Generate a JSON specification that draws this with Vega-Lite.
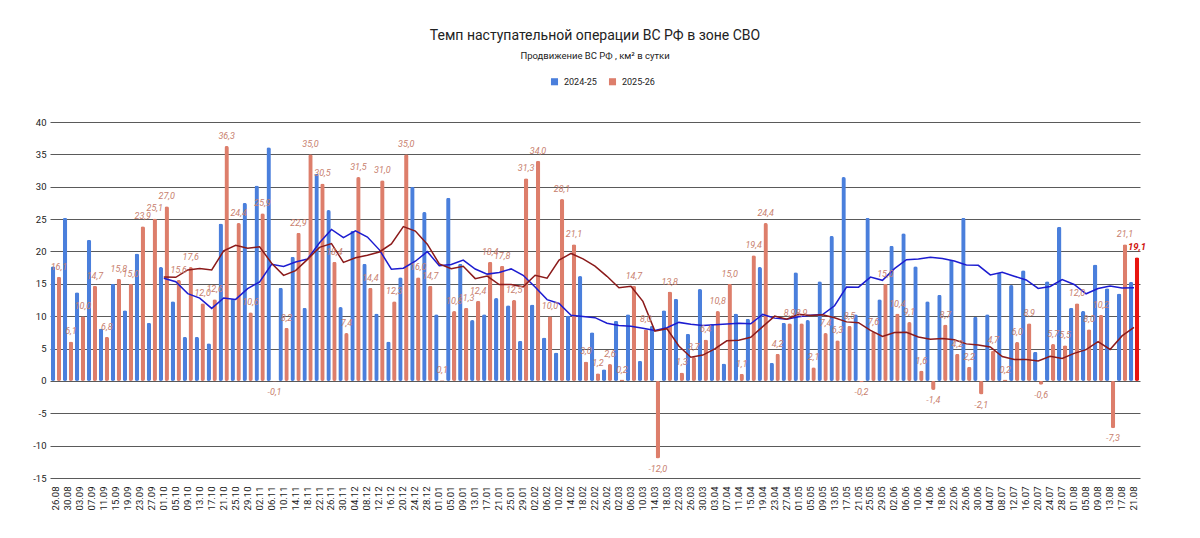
{
  "$schema": "https://vega.github.io/schema/vega-lite/v6.json",
  "width": 1090,
  "height": 356,
  "autosize": "none",
  "padding": {"left": 50, "top": 122, "right": 60, "bottom": 60},
  "background": "white",
  "config": {
    "font": "Roboto",
    "view": {"stroke": null},
    "locale": {"number": {"decimal": ",", "thousands": " ", "grouping": [3], "currency": ["", ""], "minus": "-"}}
  },
  "title": {
    "text": "Темп наступательной операции ВС РФ в зоне СВО",
    "subtitle": "Продвижение ВС РФ , км² в сутки",
    "fontSize": 14,
    "fontWeight": "normal",
    "color": "#222",
    "subtitleFontSize": 9.5,
    "subtitleColor": "#222",
    "subtitlePadding": 8,
    "anchor": "middle",
    "offset": 17
  },
  "data": {
    "values": [
      {"d": "26.08", "2024-25": 17.7, "2025-26": 16.1},
      {"d": "30.08", "2024-25": 25.2, "2025-26": 6.1},
      {"d": "03.09", "2024-25": 13.7, "2025-26": 10.0},
      {"d": "07.09", "2024-25": 21.8, "2025-26": 14.7},
      {"d": "11.09", "2024-25": 8.1, "2025-26": 6.8},
      {"d": "15.09", "2024-25": 15.0, "2025-26": 15.8},
      {"d": "19.09", "2024-25": 10.9, "2025-26": 15.0},
      {"d": "23.09", "2024-25": 19.7, "2025-26": 23.9},
      {"d": "27.09", "2024-25": 9.0, "2025-26": 25.1},
      {"d": "01.10", "2024-25": 17.6, "2025-26": 27.0, "ma1": 15.87, "ma2": 16.05},
      {"d": "05.10", "2024-25": 12.3, "2025-26": 15.6, "ma1": 15.33, "ma2": 16.00},
      {"d": "09.10", "2024-25": 6.8, "2025-26": 17.6, "ma1": 13.49, "ma2": 17.15},
      {"d": "13.10", "2024-25": 6.8, "2025-26": 12.0, "ma1": 12.80, "ma2": 17.35},
      {"d": "17.10", "2024-25": 5.8, "2025-26": 12.6, "ma1": 11.20, "ma2": 17.14},
      {"d": "21.10", "2024-25": 24.3, "2025-26": 36.3, "ma1": 12.82, "ma2": 20.09},
      {"d": "25.10", "2024-25": 12.7, "2025-26": 24.4, "ma1": 12.59, "ma2": 20.95},
      {"d": "29.10", "2024-25": 27.5, "2025-26": 10.6, "ma1": 14.25, "ma2": 20.51},
      {"d": "02.11", "2024-25": 30.2, "2025-26": 25.9, "ma1": 15.30, "ma2": 20.71},
      {"d": "06.11", "2024-25": 36.1, "2025-26": -0.1, "ma1": 18.01, "ma2": 18.19},
      {"d": "10.11", "2024-25": 14.4, "2025-26": 8.2, "ma1": 17.69, "ma2": 16.31},
      {"d": "14.11", "2024-25": 19.2, "2025-26": 22.9, "ma1": 18.38, "ma2": 17.04},
      {"d": "18.11", "2024-25": 11.3, "2025-26": 35.0, "ma1": 18.83, "ma2": 18.78},
      {"d": "22.11", "2024-25": 32.0, "2025-26": 30.5, "ma1": 21.35, "ma2": 20.63},
      {"d": "26.11", "2024-25": 26.4, "2025-26": 18.4, "ma1": 23.41, "ma2": 21.21},
      {"d": "30.11", "2024-25": 11.4, "2025-26": 7.4, "ma1": 22.12, "ma2": 18.32},
      {"d": "04.12", "2024-25": 23.2, "2025-26": 31.5, "ma1": 23.17, "ma2": 19.03},
      {"d": "08.12", "2024-25": 18.1, "2025-26": 14.4, "ma1": 22.23, "ma2": 19.41},
      {"d": "12.12", "2024-25": 10.4, "2025-26": 31.0, "ma1": 20.25, "ma2": 19.92},
      {"d": "16.12", "2024-25": 6.1, "2025-26": 12.3, "ma1": 17.25, "ma2": 21.16},
      {"d": "20.12", "2024-25": 16.0, "2025-26": 35.0, "ma1": 17.41, "ma2": 23.84},
      {"d": "24.12", "2024-25": 30.0, "2025-26": 16.0, "ma1": 18.49, "ma2": 23.15},
      {"d": "28.12", "2024-25": 26.1, "2025-26": 14.7, "ma1": 19.97, "ma2": 21.12},
      {"d": "01.01", "2024-25": 10.3, "2025-26": 0.1, "ma1": 17.80, "ma2": 18.08},
      {"d": "05.01", "2024-25": 28.3, "2025-26": 10.8, "ma1": 17.99, "ma2": 17.32},
      {"d": "09.01", "2024-25": 18.1, "2025-26": 11.3, "ma1": 18.66, "ma2": 17.71},
      {"d": "13.01", "2024-25": 9.4, "2025-26": 12.4, "ma1": 17.28, "ma2": 15.80},
      {"d": "17.01", "2024-25": 10.3, "2025-26": 18.4, "ma1": 16.50, "ma2": 16.20},
      {"d": "21.01", "2024-25": 12.8, "2025-26": 17.8, "ma1": 16.74, "ma2": 14.88},
      {"d": "25.01", "2024-25": 11.7, "2025-26": 12.5, "ma1": 17.30, "ma2": 14.90},
      {"d": "29.01", "2024-25": 6.2, "2025-26": 31.3, "ma1": 16.32, "ma2": 14.53},
      {"d": "02.02", "2024-25": 11.8, "2025-26": 34.0, "ma1": 14.50, "ma2": 16.33},
      {"d": "06.02", "2024-25": 6.7, "2025-26": 10.0, "ma1": 12.56, "ma2": 15.86},
      {"d": "10.02", "2024-25": 4.4, "2025-26": 28.1, "ma1": 11.97, "ma2": 18.66},
      {"d": "14.02", "2024-25": 10.1, "2025-26": 21.1, "ma1": 10.15, "ma2": 19.69},
      {"d": "18.02", "2024-25": 16.2, "2025-26": 3.0, "ma1": 9.96, "ma2": 18.86},
      {"d": "22.02", "2024-25": 7.5, "2025-26": 1.2, "ma1": 9.77, "ma2": 17.74},
      {"d": "26.02", "2024-25": 1.8, "2025-26": 2.6, "ma1": 8.92, "ma2": 16.16},
      {"d": "02.03", "2024-25": 9.3, "2025-26": 0.2, "ma1": 8.57, "ma2": 14.40},
      {"d": "06.03", "2024-25": 10.3, "2025-26": 14.7, "ma1": 8.43, "ma2": 14.62},
      {"d": "10.03", "2024-25": 3.1, "2025-26": 8.0, "ma1": 8.12, "ma2": 12.29},
      {"d": "14.03", "2024-25": 8.5, "2025-26": -12.0, "ma1": 7.79, "ma2": 7.69},
      {"d": "18.03", "2024-25": 10.9, "2025-26": 13.8, "ma1": 8.21, "ma2": 8.07},
      {"d": "22.03", "2024-25": 12.7, "2025-26": 1.3, "ma1": 9.04, "ma2": 5.39},
      {"d": "26.03", "2024-25": 7.3, "2025-26": 3.7, "ma1": 8.76, "ma2": 3.65},
      {"d": "30.03", "2024-25": 14.2, "2025-26": 6.4, "ma1": 8.56, "ma2": 3.99},
      {"d": "03.04", "2024-25": 8.8, "2025-26": 10.8, "ma1": 8.69, "ma2": 4.95},
      {"d": "07.04", "2024-25": 2.7, "2025-26": 15.0, "ma1": 8.78, "ma2": 6.19},
      {"d": "11.04", "2024-25": 10.4, "2025-26": 1.1, "ma1": 8.89, "ma2": 6.28},
      {"d": "15.04", "2024-25": 9.6, "2025-26": 19.4, "ma1": 8.82, "ma2": 6.75},
      {"d": "19.04", "2024-25": 17.6, "2025-26": 24.4, "ma1": 10.27, "ma2": 8.39},
      {"d": "23.04", "2024-25": 2.8, "2025-26": 4.2, "ma1": 9.70, "ma2": 10.01},
      {"d": "27.04", "2024-25": 9.0, "2025-26": 8.9, "ma1": 9.51, "ma2": 9.52},
      {"d": "01.05", "2024-25": 16.8, "2025-26": 8.9, "ma1": 9.92, "ma2": 10.28},
      {"d": "05.05", "2024-25": 9.4, "2025-26": 2.1, "ma1": 10.13, "ma2": 10.12},
      {"d": "09.05", "2024-25": 15.4, "2025-26": 7.4, "ma1": 10.25, "ma2": 10.22},
      {"d": "13.05", "2024-25": 22.4, "2025-26": 6.3, "ma1": 11.61, "ma2": 9.77},
      {"d": "17.05", "2024-25": 31.5, "2025-26": 8.5, "ma1": 14.49, "ma2": 9.12},
      {"d": "21.05", "2024-25": 10.3, "2025-26": -0.2, "ma1": 14.48, "ma2": 8.99},
      {"d": "25.05", "2024-25": 25.2, "2025-26": 7.6, "ma1": 16.04, "ma2": 7.81},
      {"d": "29.05", "2024-25": 12.6, "2025-26": 15.0, "ma1": 15.54, "ma2": 6.87},
      {"d": "02.06", "2024-25": 20.9, "2025-26": 10.4, "ma1": 17.35, "ma2": 7.49},
      {"d": "06.06", "2024-25": 22.8, "2025-26": 9.1, "ma1": 18.73, "ma2": 7.51},
      {"d": "10.06", "2024-25": 17.7, "2025-26": 1.6, "ma1": 18.82, "ma2": 6.78},
      {"d": "14.06", "2024-25": 12.3, "2025-26": -1.4, "ma1": 19.11, "ma2": 6.43},
      {"d": "18.06", "2024-25": 13.3, "2025-26": 8.7, "ma1": 18.90, "ma2": 6.56},
      {"d": "22.06", "2024-25": 18.7, "2025-26": 4.2, "ma1": 18.53, "ma2": 6.35},
      {"d": "26.06", "2024-25": 25.2, "2025-26": 2.2, "ma1": 17.90, "ma2": 5.72},
      {"d": "30.06", "2024-25": 9.9, "2025-26": -2.1, "ma1": 17.86, "ma2": 5.53},
      {"d": "04.07", "2024-25": 10.3, "2025-26": 4.7, "ma1": 16.37, "ma2": 5.24},
      {"d": "08.07", "2024-25": 16.7, "2025-26": 0.2, "ma1": 16.78, "ma2": 3.76},
      {"d": "12.07", "2024-25": 14.8, "2025-26": 6.0, "ma1": 16.17, "ma2": 3.32},
      {"d": "16.07", "2024-25": 17.1, "2025-26": 8.9, "ma1": 15.60, "ma2": 3.30},
      {"d": "20.07", "2024-25": 4.5, "2025-26": -0.6, "ma1": 14.28, "ma2": 3.08},
      {"d": "24.07", "2024-25": 15.4, "2025-26": 5.7, "ma1": 14.59, "ma2": 3.79},
      {"d": "28.07", "2024-25": 23.8, "2025-26": 5.5, "ma1": 15.64, "ma2": 3.47},
      {"d": "01.08", "2024-25": 11.3, "2025-26": 12.0, "ma1": 14.90, "ma2": 4.25},
      {"d": "05.08", "2024-25": 10.8, "2025-26": 8.0, "ma1": 13.46, "ma2": 4.83},
      {"d": "09.08", "2024-25": 18.0, "2025-26": 10.2, "ma1": 14.27, "ma2": 6.06},
      {"d": "13.08", "2024-25": 14.3, "2025-26": -7.3, "ma1": 14.67, "ma2": 4.86},
      {"d": "17.08", "2024-25": 13.5, "2025-26": 21.1, "ma1": 14.35, "ma2": 6.95},
      {"d": "21.08", "2024-25": 15.3, "2025-26": 19.1, "ma1": 14.40, "ma2": 8.26}
    ]
  },
  "encoding": {
    "x": {
      "field": "d",
      "type": "nominal",
      "sort": null,
      "scale": {"paddingInner": 0.14, "paddingOuter": 0.07},
      "axis": {
        "title": null,
        "labelAngle": -90,
        "labelFontSize": 9.5,
        "labelColor": "#222",
        "labelOverlap": false,
        "labelPadding": 8,
        "ticks": false,
        "domain": false
      }
    }
  },
  "layer": [
    {
      "transform": [{"fold": ["2024-25", "2025-26"], "as": ["s", "v"]}],
      "mark": {"type": "bar", "cornerRadius": 2},
      "encoding": {
        "xOffset": {
          "field": "s",
          "type": "nominal",
          "scale": {"domain": ["2024-25", "2025-26"], "paddingInner": 0.25}
        },
        "y": {
          "field": "v",
          "type": "quantitative",
          "scale": {"domain": [-15, 40], "nice": false, "zero": false},
          "axis": {
            "title": null,
            "values": [-15, -10, -5, 0, 5, 10, 15, 20, 25, 30, 35, 40],
            "tickCount": 12,
            "labelOverlap": false,
            "format": "d",
            "grid": true,
            "gridColor": "#5a5a5a",
            "gridWidth": 1,
            "ticks": false,
            "domain": false,
            "labelFontSize": 9.5,
            "labelColor": "#222",
            "labelPadding": 4
          }
        },
        "color": {
          "condition": {"test": "datum.d === '21.08' && datum.s === '2025-26'", "value": "#e8140f"},
          "field": "s",
          "type": "nominal",
          "scale": {"domain": ["2024-25", "2025-26"], "range": ["#4a7fdc", "#dd7e6b"]},
          "legend": {
            "title": null,
            "orient": "none",
            "direction": "horizontal",
            "legendX": 500,
            "legendY": -45,
            "symbolType": "square",
            "symbolSize": 50,
            "symbolStrokeWidth": 0,
            "labelFontSize": 9,
            "labelColor": "#222",
            "labelOffset": 5,
            "columnPadding": 11
          }
        }
      }
    },
    {
      "mark": {"type": "rule", "color": "#222", "strokeWidth": 1},
      "encoding": {"y": {"datum": 0}}
    },
    {
      "mark": {"type": "line", "color": "#1c1cd0", "strokeWidth": 1.5},
      "encoding": {"y": {"field": "ma1", "type": "quantitative"}}
    },
    {
      "mark": {"type": "line", "color": "#8b1a1a", "strokeWidth": 1.5},
      "encoding": {"y": {"field": "ma2", "type": "quantitative"}}
    },
    {
      "transform": [
        {"fold": ["2024-25", "2025-26"], "as": ["s", "v"]},
        {"filter": "datum.s === '2025-26' && datum.v >= 0 && datum.d !== '21.08'"}
      ],
      "mark": {"type": "text", "baseline": "bottom", "dy": -5, "fontSize": 9, "fontStyle": "italic", "color": "#c8806e"},
      "encoding": {
        "xOffset": {"field": "s", "type": "nominal", "scale": {"domain": ["2024-25", "2025-26"], "paddingInner": 0.25}},
        "y": {"field": "v", "type": "quantitative"},
        "text": {"field": "v", "type": "quantitative", "format": ".1f"}
      }
    },
    {
      "transform": [
        {"fold": ["2024-25", "2025-26"], "as": ["s", "v"]},
        {"filter": "datum.s === '2025-26' && datum.v < 0"}
      ],
      "mark": {"type": "text", "baseline": "top", "dy": 6, "fontSize": 9, "fontStyle": "italic", "color": "#c8806e"},
      "encoding": {
        "xOffset": {"field": "s", "type": "nominal", "scale": {"domain": ["2024-25", "2025-26"], "paddingInner": 0.25}},
        "y": {"field": "v", "type": "quantitative"},
        "text": {"field": "v", "type": "quantitative", "format": ".1f"}
      }
    },
    {
      "transform": [
        {"fold": ["2024-25", "2025-26"], "as": ["s", "v"]},
        {"filter": "datum.s === '2025-26' && datum.d === '21.08'"}
      ],
      "mark": {"type": "text", "baseline": "bottom", "dy": -5, "fontSize": 9.5, "fontStyle": "italic", "fontWeight": "bold", "color": "#d0160f"},
      "encoding": {
        "xOffset": {"field": "s", "type": "nominal", "scale": {"domain": ["2024-25", "2025-26"], "paddingInner": 0.25}},
        "y": {"field": "v", "type": "quantitative"},
        "text": {"field": "v", "type": "quantitative", "format": ".1f"}
      }
    }
  ]
}
